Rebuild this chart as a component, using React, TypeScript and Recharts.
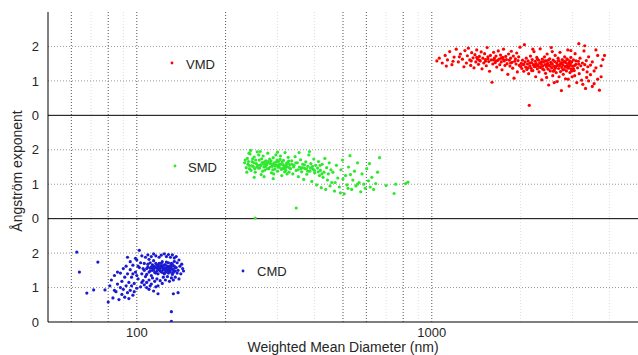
import React from 'react';
import { ScatterChart, Scatter, XAxis, YAxis, ReferenceLine, Customized } from 'recharts';

// Weighted mean diameter (nm), Ångström exponent
const vmdPoints: [number, number][] = [
  [1040,1.58],[1060,1.66],[1085,1.52],[1110,1.74],[1130,1.61],[1150,1.85],[1170,1.47],[1190,1.69],[1210,1.92],[1230,1.55],[1250,1.78],[1270,1.63],[1285,1.41],[1295,1.88],[1180,1.57],[1240,1.70],[1120,1.43],
  [1310,1.52],[1320,1.73],[1330,1.95],[1345,1.61],[1355,1.45],[1365,1.82],[1380,1.67],[1390,1.38],[1400,1.76],[1410,1.55],[1420,1.90],[1430,1.63],[1440,1.48],[1450,1.71],[1460,1.58],[1470,1.84],[1480,1.35],[1490,1.66],[1500,1.52],[1510,1.79],[1520,1.62],[1530,1.44],[1540,1.97],[1550,1.70],[1560,1.56],[1570,1.28],[1580,1.74],[1590,1.61],[1600,0.96],[1610,1.49],[1620,1.83],[1630,1.66],[1640,1.53],[1650,1.72],[1660,1.40],[1670,1.59],[1680,1.87],[1690,1.63],[1700,1.47],[1710,1.75],[1720,1.55],[1730,1.32],[1740,1.68],[1750,1.92],[1760,1.58],[1770,1.45],[1780,1.71],[1790,1.62],[1800,1.50],[1810,1.19],[1820,1.78],[1830,1.60],[1840,1.43],[1850,1.66],[1860,1.86],[1870,1.54],[1880,1.37],[1890,1.72],[1900,1.08],[1910,1.57],[1920,1.64],[1930,1.49],[1940,1.81],[1950,1.26],[1960,1.59],[1970,1.70],[1980,1.45],[1990,1.98],[1360,1.58],[1450,1.60],[1550,1.64],[1650,1.58],[1750,1.62],[1850,1.52],[1420,1.68],[1520,1.57],[1720,1.66],[1620,1.61],
  [2000,1.42],[2010,1.51],[2020,1.36],[2030,1.60],[2040,1.47],[2050,1.28],[2060,2.05],[2070,1.55],[2080,1.40],[2090,1.66],[2100,1.33],[2110,1.49],[2120,1.58],[2130,1.21],[2140,0.29],[2150,1.44],[2160,1.72],[2170,1.37],[2180,1.53],[2190,1.62],[2200,1.30],[2210,1.46],[2220,1.85],[2230,1.41],[2240,1.57],[2250,1.12],[2260,1.50],[2270,1.68],[2280,1.35],[2290,1.45],[2300,1.60],[2310,1.26],[2320,1.52],[2330,1.93],[2340,1.39],[2350,1.48],[2360,1.03],[2370,1.63],[2380,1.43],[2390,1.55],[2400,1.32],[2410,1.70],[2420,1.47],[2430,1.22],[2440,1.58],[2450,1.40],[2460,1.78],[2470,1.51],[2480,1.34],[2490,0.88],[2500,1.45],[2510,1.64],[2520,1.29],[2530,1.54],[2540,1.97],[2550,1.38],[2560,1.49],[2570,1.15],[2580,1.60],[2590,1.43],[2600,1.31],[2610,1.56],[2620,1.74],[2630,1.41],[2640,1.24],[2650,1.52],[2660,0.98],[2670,1.46],[2680,1.66],[2690,1.36],[2700,1.58],[2710,1.44],[2720,1.83],[2730,1.27],[2740,1.50],[2750,0.72],[2760,1.39],[2770,1.62],[2780,1.47],[2790,1.19],[2800,1.55],[2810,1.33],[2820,1.70],[2830,1.42],[2840,1.06],[2850,1.53],[2860,1.29],[2870,1.64],[2880,1.45],[2890,1.90],[2900,1.37],[2910,1.51],[2920,0.85],[2930,1.58],[2940,1.24],[2950,1.46],[2960,1.68],[2970,1.34],[2980,1.55],[2990,1.12],[3000,1.43],[3020,1.61],[3040,1.30],[3060,1.79],[3080,1.48],[3100,0.95],[3120,1.38],[3140,1.57],[3160,1.21],[3180,1.66],[3200,1.44],[3220,1.02],[3240,1.52],[3260,1.33],[3280,1.87],[3300,1.47],[3320,0.78],[3340,1.59],[3360,1.26],[3380,1.41],[3400,1.70],
  [2050,1.48],[2150,1.52],[2250,1.42],[2350,1.55],[2450,1.46],[2550,1.50],[2650,1.44],[2750,1.53],[2850,1.40],[2950,1.52],[3050,1.45],[3150,1.49],[2120,1.38],[2220,1.47],[2320,1.40],[2420,1.58],[2520,1.43],[2620,1.37],[2720,1.49],[2820,1.57],[2920,1.41],[3020,1.36],[2180,1.30],[2380,1.34],[2580,1.28],[2780,1.32],[2980,1.29],[2280,1.63],[2480,1.60],[2680,1.59],[2880,1.62],[3080,1.58],
  [3450,1.18],[3500,1.55],[3550,0.92],[3600,1.38],[3650,1.74],[3700,0.73],[3750,1.12],[3800,1.62],[3850,1.74],[3450,1.46],[3550,1.29],[3650,1.05],[3750,1.44],[3500,0.84],[3600,1.90],[3300,2.02],[3150,2.08],
  [2600,0.95],[2900,1.05],[3250,0.90],[3400,1.00],[2450,1.10],[3050,1.15],[2700,1.12],[3350,1.10],[2200,1.92],[2560,1.85],[2960,1.88],
];

const smdPoints: [number, number][] = [
  [232,1.62],[235,1.48],[237,1.75],[240,1.55],[242,1.88],[244,1.40],[246,1.66],[248,1.52],[250,1.79],[252,1.35],[254,1.60],[256,1.94],[258,1.47],[260,1.70],[262,1.56],[264,1.28],[266,1.63],[268,1.82],[270,1.50],[272,1.41],[274,1.68],[276,1.57],[278,1.90],[280,1.45],[282,1.73],[284,1.60],[286,1.33],[288,1.52],[290,1.77],[292,1.62],[294,1.44],[296,1.85],[298,1.55],[300,1.38],[302,1.66],[304,1.49],[306,1.72],[308,1.58],[310,1.25],[312,1.46],[314,1.69],[316,1.53],[318,1.92],[320,1.40],[322,1.61],[324,1.50],[326,1.78],[328,1.35],[330,1.57],
  [233,1.70],[238,1.58],[241,1.45],[245,1.53],[249,1.62],[253,1.70],[257,1.55],[261,1.47],[265,1.74],[269,1.58],[273,1.52],[277,1.45],[281,1.62],[285,1.68],[289,1.42],[293,1.56],[297,1.64],[301,1.50],[305,1.58],[309,1.43],[313,1.57],[317,1.36],[321,1.55],[325,1.62],[329,1.48],
  [236,1.35],[243,1.98],[251,1.45],[259,1.85],[267,1.38],[275,1.60],[283,1.50],[291,1.30],[299,1.70],[307,1.82],[315,1.46],[323,1.30],[247,1.74],[263,1.54],[279,1.66],[295,1.53],[311,1.65],[327,1.67],[239,1.66],[255,1.50],[271,1.65],[287,1.58],[303,1.56],[319,1.48],
  [250,1.20],[270,1.22],[290,1.16],[240,1.90],[262,1.95],[300,1.93],[347,0.31],[252,0.02],
  [332,1.45],[335,1.68],[338,1.30],[341,1.55],[344,1.80],[347,1.40],[350,1.62],[353,1.22],[356,1.50],[359,1.71],[362,1.36],[365,1.58],[368,1.14],[371,1.46],[374,1.65],[377,1.29],[380,1.52],[383,1.85],[386,1.38],[389,1.60],[392,1.08],[395,1.44],[398,1.73],[401,1.33],[404,1.55],[407,0.98],[410,1.47],[413,1.66],[416,1.25],[419,1.40],[422,0.90],[425,1.58],[428,1.20],[431,1.35],[434,1.75],[437,0.85],[440,1.48],[443,1.12],[446,1.30],[449,1.62],[452,0.95],[455,1.42],[458,1.05],
  [340,1.50],[352,1.42],[364,1.48],[376,1.44],[388,1.47],[400,1.40],[412,1.36],[424,1.30],[346,1.62],[370,1.56],[394,1.52],[418,1.55],[355,1.92],[385,1.95],[336,1.58],[360,1.45],[380,1.38],
  [462,1.35],[468,0.80],[475,1.55],[480,1.18],[486,0.92],[492,1.42],[498,1.70],[505,0.72],[510,1.25],[516,0.98],[522,1.50],[528,1.83],[535,0.85],[540,1.12],[547,1.38],[553,0.95],[560,1.62],[567,1.05],[574,0.78],[580,1.30],[588,1.00],[595,0.88],[602,1.45],[610,1.10],[618,0.92],[626,1.20],[635,0.85],[645,1.02],[655,1.35],[470,1.05],[500,1.15],[530,1.28],[560,1.00],[490,0.75],[520,0.88],[615,1.60],
  [665,1.77],[700,0.96],[745,0.73],[755,1.00],[815,1.02],[830,1.06],
];

const cmdPoints: [number, number][] = [
  [108,1.55],[109,1.68],[110,1.45],[111,1.72],[112,1.60],[113,1.50],[114,1.78],[115,1.58],[116,1.42],[117,1.65],[118,1.55],[119,1.70],[120,1.48],[121,1.62],[122,1.75],[123,1.52],[124,1.40],[125,1.66],[126,1.58],[127,1.50],[128,1.72],[129,1.61],[130,1.45],[131,1.56],[132,1.68],[133,1.52],[134,1.62],[135,1.48],
  [108,1.38],[110,1.82],[112,1.35],[114,1.52],[116,1.70],[118,1.40],[120,1.60],[122,1.44],[124,1.56],[126,1.74],[128,1.42],[130,1.64],[132,1.38],[134,1.76],[109,1.60],[111,1.48],[113,1.66],[115,1.44],[117,1.56],[119,1.52],[121,1.46],[123,1.64],[125,1.52],[127,1.62],[129,1.55],[131,1.70],[133,1.44],[135,1.58],
  [114,1.62],[116,1.58],[118,1.64],[120,1.54],[122,1.58],[124,1.66],[126,1.48],[128,1.56],[130,1.52],[119,1.60],[121,1.70],[123,1.58],[125,1.44],[127,1.56],[117,1.48],[129,1.48],[131,1.62],[113,1.58],[111,1.56],
  [95,1.52],[96,1.30],[97,1.65],[98,1.12],[99,1.45],[100,1.80],[101,1.25],[102,2.08],[102,1.58],[103,1.02],[104,1.40],[104,1.92],[105,1.20],[106,1.70],[106,1.08],[107,1.88],[107,1.32],[108,1.15],[109,1.95],[110,1.22],[111,1.05],[112,1.90],[113,1.28],[114,1.98],[115,1.18],[116,1.92],[117,1.25],[118,1.05],[119,1.88],[120,1.20],[121,1.94],[122,1.12],[123,1.30],[124,1.98],[125,1.22],[126,1.90],[127,1.32],[128,1.96],[129,1.18],[130,1.88],[131,1.28],[132,1.95],[133,1.22],[134,1.86],[135,1.30],[136,1.58],[137,1.72],[137,1.42],[138,1.50],[139,1.80],[140,1.62],[141,1.40],[142,1.68],[143,1.55],[144,1.48],[136,1.90],[139,1.25],[138,0.85],[133,0.82],[131,0.30],[131,0.02],[100,1.35],[105,1.55],[103,1.72],[101,1.62],[99,1.85],[97,1.40],[100,0.98],[104,1.15],[106,1.50],[108,1.00],[110,0.95],[112,1.10],[114,0.90],[116,1.02],[118,0.82],
  [78,0.93],[80,0.58],[81,1.05],[82,1.22],[83,0.70],[84,1.35],[85,0.88],[86,1.10],[87,0.65],[88,1.42],[89,0.80],[89,1.18],[90,0.95],[90,1.55],[91,0.72],[91,1.30],[92,1.05],[92,1.62],[93,0.85],[93,1.40],[94,1.15],[94,0.68],[95,0.92],[95,1.75],[96,1.05],[97,0.78],[98,0.88],[86,1.45],[88,1.00],[84,0.92],[93,1.88],
  [62.6,2.03],[63.9,1.45],[73.8,1.74],[67.7,0.84],[71.4,0.93],
];

const seriesNames = ['VMD', 'SMD', 'CMD'];
const seriesColors = ['#ff0000', '#2ee82e', '#1a1ad0'];
const xTicks = [100, 1000];
const panelTickLabels = ['0', '1', '2'];
const darkGridX = [60, 80, 100, 200, 500, 600, 800, 1000];
const lightGridX = [70, 90, 300, 400, 700, 900, 2000, 3000, 4000];
const panelIds = ['vmd', 'smd', 'cmd'];
const panelDomains: [number, number][] = [[-6, 3], [-3, 6], [0, 9]];
// ticks of the visible axis (bottom panel scale, spans all three panels)
const stackedTicks = [0, 1, 2, 3, 4, 5, 6, 7, 8];

const FONT = '"Liberation Sans", Arial, Helvetica, sans-serif';
const TEXT = '#262626';

const toData = (pts: [number, number][]) => pts.map(([d, a]) => ({ d, a }));
const allData = [vmdPoints, smdPoints, cmdPoints].map(toData);

const dot = (color: string) => (props: any) => (
  <circle cx={props.cx} cy={props.cy} r={1.6} fill={color} />
);

const legendPos = [
  { mx: 172, my: 63, tx: 186, ty: 69 },
  { mx: 175, my: 166, tx: 188, ty: 172 },
  { mx: 243, my: 271, tx: 257, ty: 276 },
];

const Overlay = () => (
  <g fontFamily={FONT}>
    {legendPos.map((p, i) => (
      <g key={i}>
        <circle cx={p.mx} cy={p.my} r={1.4} fill={seriesColors[i]} />
        <text x={p.tx} y={p.ty} fontSize={13} fill={TEXT}>{seriesNames[i]}</text>
      </g>
    ))}
    <text x={22} y={171} fontSize={14} fill={TEXT} textAnchor="middle" transform="rotate(-90 22 171)">
      Ångström exponent
    </text>
  </g>
);

export default function App() {
  return (
    <div style={{ position: 'absolute', left: 0, top: 0, width: 638, height: 355, background: '#fff' }}>
      <ScatterChart width={638} height={355} margin={{ top: 12, right: 0, bottom: 0, left: 0 }}>
        <XAxis
          dataKey="d"
          type="number"
          scale="log"
          domain={[50, 5000]}
          ticks={xTicks}
          allowDataOverflow
          height={33}
          tickLine={false}
          tickMargin={0}
          axisLine={{ stroke: '#000', strokeWidth: 1 }}
          tick={{ fontSize: 13, fill: TEXT, fontFamily: FONT }}
          label={{ value: 'Weighted Mean Diameter (nm)', position: 'insideBottom', offset: 3, fontSize: 14, fill: TEXT, fontFamily: FONT }}
        />
        <YAxis
          yAxisId="cmd"
          dataKey="a"
          type="number"
          domain={panelDomains[2]}
          ticks={stackedTicks}
          tickFormatter={(v: number) => panelTickLabels[v % 3]}
          allowDataOverflow
          width={48}
          tickLine={false}
          tickMargin={3}
          axisLine={{ stroke: '#000', strokeWidth: 1 }}
          tick={{ fontSize: 13, fill: TEXT, fontFamily: FONT }}
        />
        <YAxis yAxisId="vmd" dataKey="a" type="number" domain={panelDomains[0]} allowDataOverflow hide />
        <YAxis yAxisId="smd" dataKey="a" type="number" domain={panelDomains[1]} allowDataOverflow hide />
        {lightGridX.map((v) => (
          <ReferenceLine key={'l' + v} x={v} yAxisId="cmd" stroke="#dedede" strokeDasharray="1 2" />
        ))}
        {darkGridX.map((v) => (
          <ReferenceLine key={'d' + v} x={v} yAxisId="cmd" stroke="#555" strokeDasharray="1 2" />
        ))}
        {panelIds.map((id) =>
          [1, 2].map((v) => (
            <ReferenceLine key={id + v} y={v} yAxisId={id} stroke="#999" strokeDasharray="1 2" />
          ))
        )}
        <ReferenceLine y={0} yAxisId="vmd" stroke="#000" />
        <ReferenceLine y={0} yAxisId="smd" stroke="#000" />
        {panelIds.map((id, i) => (
          <Scatter
            key={id}
            name={seriesNames[i]}
            yAxisId={id}
            data={allData[i]}
            fill={seriesColors[i]}
            shape={dot(seriesColors[i])}
            isAnimationActive={false}
          />
        ))}
        <Customized component={Overlay} />
      </ScatterChart>
    </div>
  );
}
